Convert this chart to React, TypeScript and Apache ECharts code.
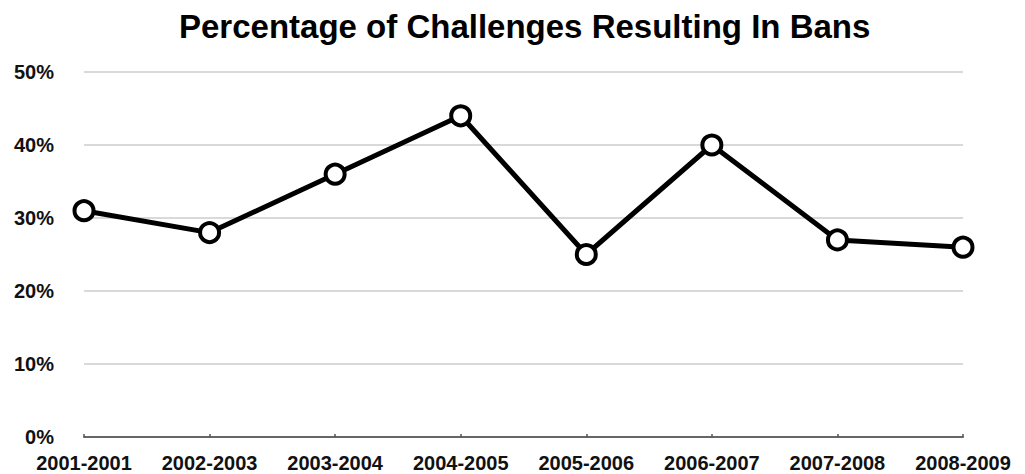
import React, { useEffect, useRef } from "react";
import * as echarts from "echarts";

const titleText = "Percentage of Challenges Resulting In Bans";
const categories = ["2001-2001", "2002-2003", "2003-2004", "2004-2005", "2005-2006", "2006-2007", "2007-2008", "2008-2009"];
const banPercent = [31, 28, 36, 44, 25, 40, 27, 26];

export default function App() {
  const ref = useRef<HTMLDivElement>(null);
  useEffect(() => {
    if (!ref.current) return;
    const chart = echarts.init(ref.current, null, { renderer: "svg" });
    chart.setOption({
      animation: false,
      backgroundColor: "#ffffff",
      title: {
        text: titleText,
        left: 174,
        top: 5,
        textStyle: { fontFamily: "Liberation Sans, Arial, sans-serif", fontWeight: "bold", fontSize: 33, color: "#000" },
      },
      grid: { left: 84, right: 62, top: 72, bottom: 37, containLabel: false },
      xAxis: {
        type: "category",
        data: categories,
        boundaryGap: false,
        axisLine: { lineStyle: { color: "#666", width: 2 } },
        axisTick: { show: true, inside: true, length: 3, lineStyle: { color: "#555", width: 1.5 } },
        axisLabel: {
          margin: 16,
          fontFamily: "Liberation Sans, Arial, sans-serif",
          fontWeight: "bold",
          fontSize: 20,
          color: "#111",
          interval: 0,
        },
        splitLine: { show: false },
      },
      yAxis: {
        type: "value",
        min: 0,
        max: 50,
        interval: 10,
        axisLine: { show: false },
        axisTick: { show: false },
        axisLabel: {
          formatter: "{value}%",
          margin: 30,
          fontFamily: "Liberation Sans, Arial, sans-serif",
          fontWeight: "bold",
          fontSize: 20,
          color: "#111",
        },
        splitLine: { lineStyle: { color: "#d9d9d9", width: 2 } },
      },
      series: [
        {
          type: "line",
          data: banPercent,
          lineStyle: { color: "#000", width: 5 },
          symbol: "circle",
          symbolSize: 19,
          itemStyle: { color: "#fff", borderColor: "#000", borderWidth: 4 },
          z: 3,
        },
      ],
    });
    return () => chart.dispose();
  }, []);
  return <div ref={ref} style={{ position: "absolute", left: 0, top: 0, width: 1025, height: 474 }} />;
}
